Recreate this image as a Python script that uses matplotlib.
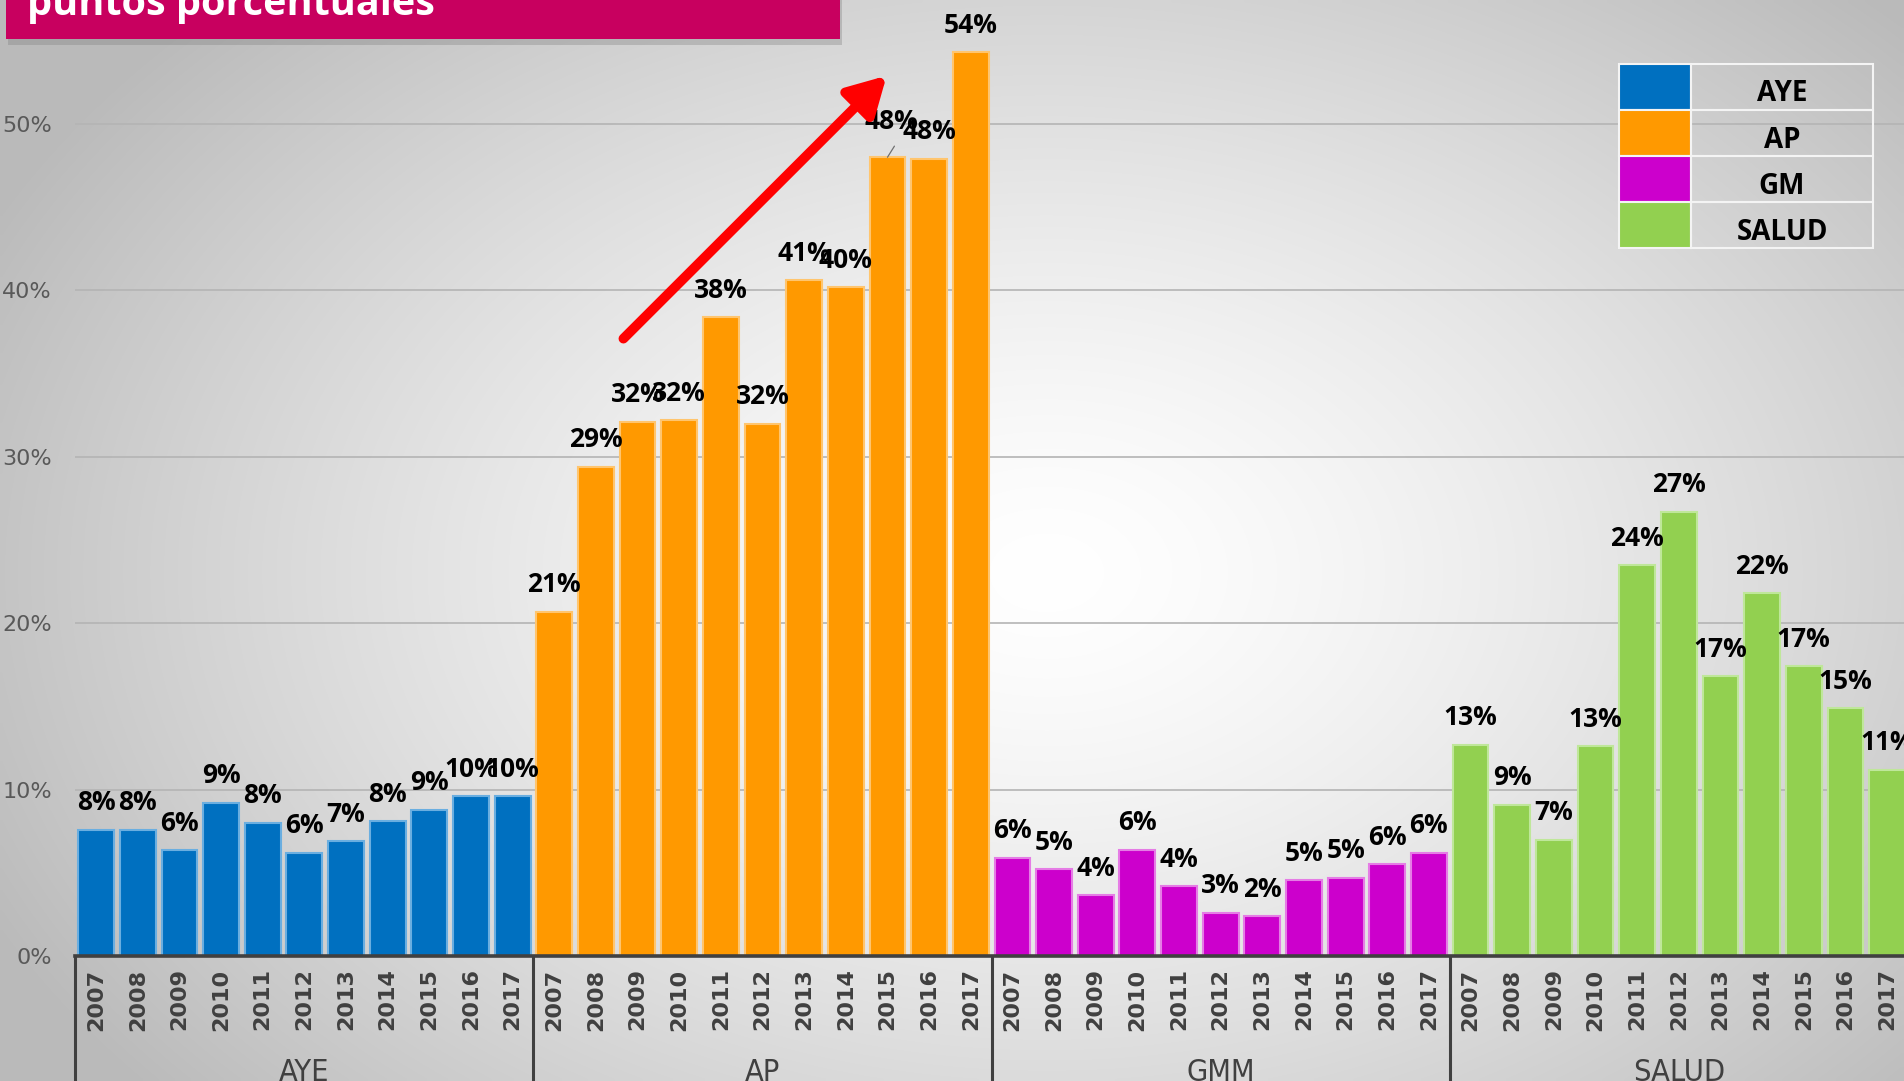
import numpy as np
import matplotlib
matplotlib.use("Agg")
import matplotlib.pyplot as plt
from matplotlib.patches import Rectangle
from matplotlib import font_manager

# ---------------- data ----------------
groups = ["AYE", "AP", "GMM", "SALUD"]
legend_names = ["AYE", "AP", "GM", "SALUD"]
years = ["2007", "2008", "2009", "2010", "2011", "2012", "2013", "2014", "2015", "2016", "2017"]
aye = [7.6, 7.6, 6.35, 9.2, 8.0, 6.2, 6.9, 8.1, 8.8, 9.6, 9.6]
ap = [20.7, 29.4, 32.1, 32.2, 38.4, 32.0, 40.6, 40.2, 48.0, 47.9, 54.3]
gmm = [5.9, 5.2, 3.65, 6.4, 4.2, 2.6, 2.4, 4.55, 4.7, 5.5, 6.2]
salud = [12.7, 9.1, 7.0, 12.6, 23.5, 26.7, 16.8, 21.8, 17.4, 14.9, 11.2]
series = [aye, ap, gmm, salud]
colors = ["#0070C0", "#FF9900", "#CC00CC", "#92D050"]
edge_colors = ["#6AAEE0", "#FFC56E", "#E57CE5", "#BFE79A"]
yticks = [0, 10, 20, 30, 40, 50]
ytick_labels = ["0%", "10%", "20%", "30%", "40%", "50%"]
title_text = "puntos porcentuales"

def has_font(name):
    try:
        font_manager.findfont(name, fallback_to_default=False)
        return True
    except Exception:
        return False

label_font = "Open Sans" if has_font("Open Sans") else "DejaVu Sans"

W, H = 1904, 1081
fig = plt.figure(figsize=(W / 100, H / 100), dpi=100)

# ---------------- background gradient ----------------
bg = fig.add_axes([0, 0, 1, 1], zorder=-10)
gx, gy = np.meshgrid(np.linspace(0, 1, 400), np.linspace(0, 1, 230))
d = np.sqrt(((gx - 0.55) / 0.62) ** 2 + ((gy - 0.47) / 0.75) ** 2)
val = 1.0 - 0.27 * np.clip(d, 0, 1) ** 1.4
img = np.dstack([val, val, val])
bg.imshow(img, extent=[0, 1, 0, 1], origin="lower", aspect="auto", interpolation="bilinear")
bg.set_axis_off()

# ---------------- main axes ----------------
left_px, bottom_px = 75.3, 125
cat_px = 41.65
n_cat = len(groups) * len(years)
ax = fig.add_axes([left_px / W, bottom_px / H, n_cat * cat_px / W, (H - bottom_px) / H])
ax.patch.set_alpha(0)

x_all = []
xtick_labels = []
for gi, (vals, c, ec) in enumerate(zip(series, colors, edge_colors)):
    xs = np.arange(len(vals)) + gi * len(years)
    ax.bar(xs, vals, width=0.86, color=c, edgecolor=ec, linewidth=1.5, zorder=3)
    for k, (x, v) in enumerate(zip(xs, vals)):
        moved = (groups[gi] == "AP" and years[k] == "2015")
        if moved:
            ax.annotate(f"{round(v)}%", xy=(x, v), xytext=(3, 20), textcoords="offset points",
                        ha="center", va="baseline", fontsize=19, fontweight="bold",
                        family=label_font, color="black", zorder=5)
            ax.annotate("", xy=(x, v), xytext=(5, 8), textcoords="offset points",
                        arrowprops=dict(arrowstyle="-", color="#707070", lw=0.9,
                                        shrinkA=0, shrinkB=0), zorder=5)
        else:
            ax.annotate(f"{round(v)}%", xy=(x, v), xytext=(0, 14), textcoords="offset points",
                        ha="center", va="baseline", fontsize=19, fontweight="bold",
                        family=label_font, color="black", zorder=5)
    x_all.extend(xs)
    xtick_labels.extend(years)

ax.set_xlim(-0.5, n_cat - 0.5)
ax.set_ylim(0, 57.45)
ax.set_yticks(yticks)
ax.set_yticklabels(ytick_labels)
ax.tick_params(axis="y", length=0, pad=17, labelsize=16, labelcolor="#595959")
ax.set_xticks(x_all)
ax.set_xticklabels(xtick_labels, rotation=90, fontsize=16, fontweight="bold",
                   color="#404040", va="top")
ax.tick_params(axis="x", length=0, pad=9)
ax.yaxis.grid(True, color="#B4B4B4", linewidth=1.2, zorder=0)
ax.set_axisbelow(True)
for s in ["left", "right", "top"]:
    ax.spines[s].set_visible(False)
ax.spines["bottom"].set_color("#404040")
ax.spines["bottom"].set_linewidth(2.6)
ax.spines["bottom"].set_zorder(6)

# group separators and group labels
trans = ax.get_xaxis_transform()
for gi in range(len(groups) + 1):
    xb = gi * len(years) - 0.5
    ax.plot([xb, xb], [0, -0.2], transform=trans, color="#404040", linewidth=2.2,
            clip_on=False, zorder=6)
for gi, g in enumerate(groups):
    xc = gi * len(years) + (len(years) - 1) / 2
    ax.text(xc, -0.122, g, transform=trans, ha="center", va="center", fontsize=22,
            family="DejaVu Sans", fontstretch="condensed", color="#404040")

# red arrow
ax.annotate("", xy=(18.98, 52.9), xytext=(12.66, 37.1),
            arrowprops=dict(arrowstyle="-|>,head_length=0.75,head_width=0.42", color="#FF0000",
                            linewidth=7, mutation_scale=30, shrinkA=0, shrinkB=0),
            zorder=7)

# ---------------- title box ----------------
shadow = Rectangle((8 / W, 1 - 45 / H), 834 / W, 60 / H, transform=fig.transFigure,
                   facecolor="#808080", alpha=0.35, edgecolor="none", zorder=8)
fig.patches.append(shadow)
tbox = Rectangle((6 / W, 1 - 39 / H), 834 / W, 60 / H, transform=fig.transFigure,
                 facecolor="#C8005F", edgecolor="none", zorder=9)
fig.patches.append(tbox)
fig.text(27 / W, 1 - 15 / H, title_text, ha="left", va="baseline", fontsize=28.5,
         fontweight="bold", family=label_font, color="white", zorder=10)

# ---------------- legend table ----------------
lx0, lx1, lx2 = 1619, 1691, 1873
ly0, row_h = 64, 46
for i, (name, c) in enumerate(zip(legend_names, colors)):
    top = ly0 + i * row_h
    fig.patches.append(Rectangle((lx0 / W, 1 - (top + row_h) / H), (lx1 - lx0) / W, row_h / H,
                                 transform=fig.transFigure, facecolor=c, edgecolor="#F4F4F4",
                                 linewidth=1.5, zorder=8))
    fig.patches.append(Rectangle((lx1 / W, 1 - (top + row_h) / H), (lx2 - lx1) / W, row_h / H,
                                 transform=fig.transFigure, facecolor="none", edgecolor="#F4F4F4",
                                 linewidth=1.5, zorder=8))
    fig.text((lx1 + lx2) / 2 / W, 1 - (top + row_h / 2 + 7) / H, name, ha="center", va="center",
             fontsize=20, fontweight="bold", family=label_font, color="black", zorder=9)

fig.savefig("out.png", dpi=100)
